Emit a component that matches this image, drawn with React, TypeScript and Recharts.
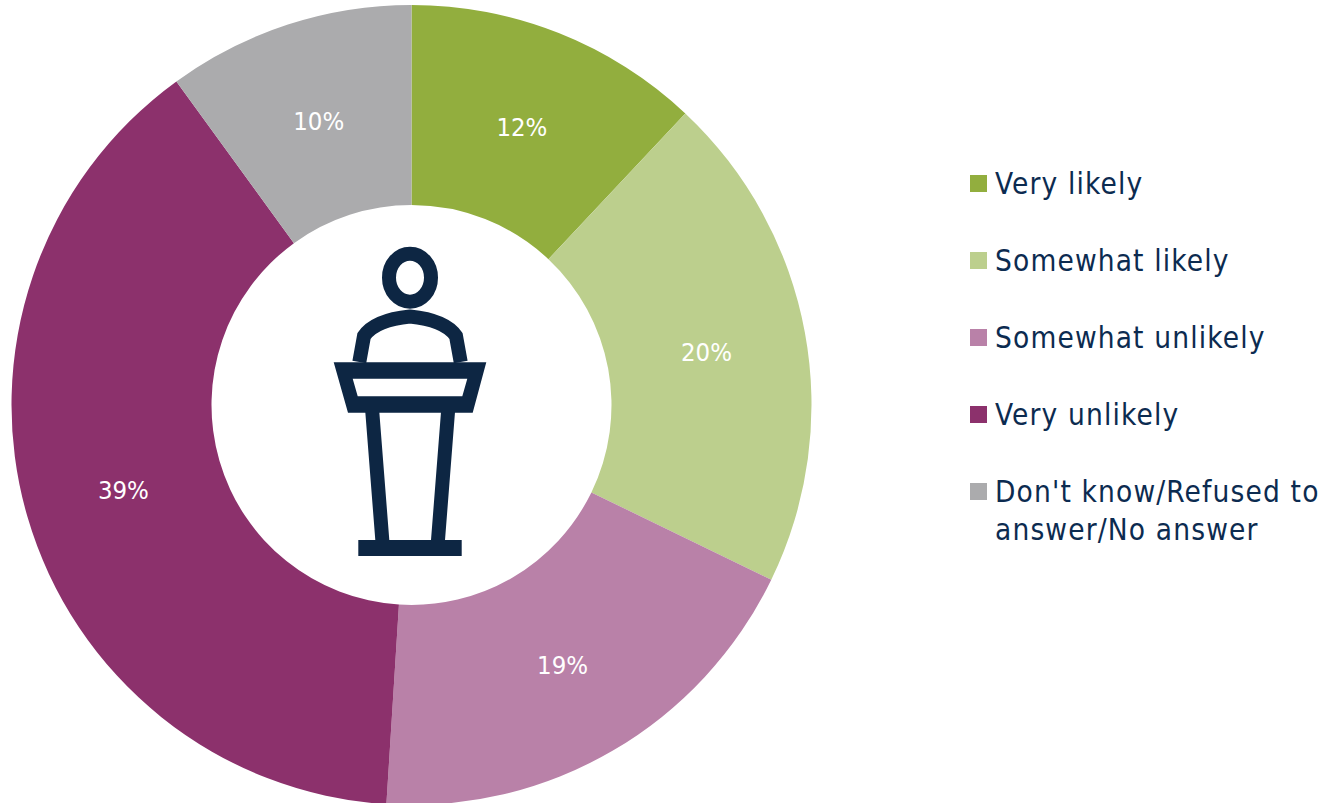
import { PieChart, Pie, Legend } from "recharts";

const categories = [
  "Very likely",
  "Somewhat likely",
  "Somewhat unlikely",
  "Very unlikely",
  "Don't know/Refused to answer/No answer",
];
// unrounded shares as measured from the slice angles; labels show them rounded
const shares = [12, 20.2, 18.8, 39, 10];
const colors = ["#92AE3E", "#BCCF8D", "#B981A8", "#8C316C", "#ABABAD"];

const NAVY = "#0D2643";
const LEGEND_TEXT = "#0C2B50";
const FONT = "'DejaVu Sans Condensed', 'DejaVu Sans', sans-serif";
const RAD = Math.PI / 180;

const data = categories.map((name, i) => ({ name, value: shares[i], fill: colors[i] }));

function sliceLabel(props: any) {
  const { cx, cy, midAngle, innerRadius, outerRadius, value } = props;
  const r = (innerRadius + outerRadius) / 2;
  const x = cx + r * Math.cos(-midAngle * RAD);
  const y = cy + r * Math.sin(-midAngle * RAD) + 1;
  return (
    <text x={x} y={y} fill="#fff" textAnchor="middle" dominantBaseline="central" fontSize={25.5} fontFamily={FONT}>
      {Math.round(value)}%
    </text>
  );
}

function LegendList({ payload }: any) {
  return (
    <div style={{ fontFamily: FONT, fontSize: 29.5, letterSpacing: 1.15, lineHeight: "38px", color: LEGEND_TEXT }}>
      {(payload || []).map((item: any) => (
        <div key={item.value} style={{ display: "flex", alignItems: "flex-start", marginBottom: 39, width: 358 }}>
          <span style={{ width: 17, height: 17, marginTop: 10, marginRight: 8, flex: "none", background: item.color }} />
          <span>{item.value}</span>
        </div>
      ))}
    </div>
  );
}

function Podium() {
  return (
    <svg width={1330} height={803} style={{ position: "absolute", left: 0, top: 0, pointerEvents: "none" }}>
      <ellipse cx={410} cy={277.7} rx={21} ry={24} fill="none" stroke={NAVY} strokeWidth={14} />
      <path
        d="M359.3 362 L364 336 Q375 320 410 316.5 Q445 320 456 336 L460.7 362"
        fill="none"
        stroke={NAVY}
        strokeWidth={14}
      />
      <path
        fillRule="evenodd"
        fill={NAVY}
        d="M333.7 362.3 H486.3 L472.7 412.7 H348 Z M352.7 378.7 L357.7 396.3 H462.3 L467.3 378.7 Z"
      />
      <path fill={NAVY} d="M365.3 412 H379.3 L389.3 540 H375.3 Z M441 412 H455 L445 540 H431 Z" />
      <rect x={358.3} y={540} width={103.4} height={16} fill={NAVY} />
    </svg>
  );
}

export default function App() {
  return (
    <div style={{ position: "absolute", left: 0, top: 0, width: 1330, height: 803, overflow: "hidden", background: "#fff" }}>
      <PieChart width={1330} height={803} margin={{ top: 0, right: 0, bottom: 0, left: 0 }}>
        <Pie
          data={data}
          dataKey="value"
          nameKey="name"
          cx={411.5}
          cy={405}
          innerRadius={200}
          outerRadius={400}
          startAngle={90}
          endAngle={-270}
          stroke="none"
          label={sliceLabel}
          labelLine={false}
          isAnimationActive={false}
        />
        <Legend
          layout="vertical"
          itemSorter={null}
          content={<LegendList />}
          wrapperStyle={{ position: "absolute", left: 970, top: 165, width: 360, bottom: "auto", right: "auto" }}
        />
      </PieChart>
      <Podium />
    </div>
  );
}
